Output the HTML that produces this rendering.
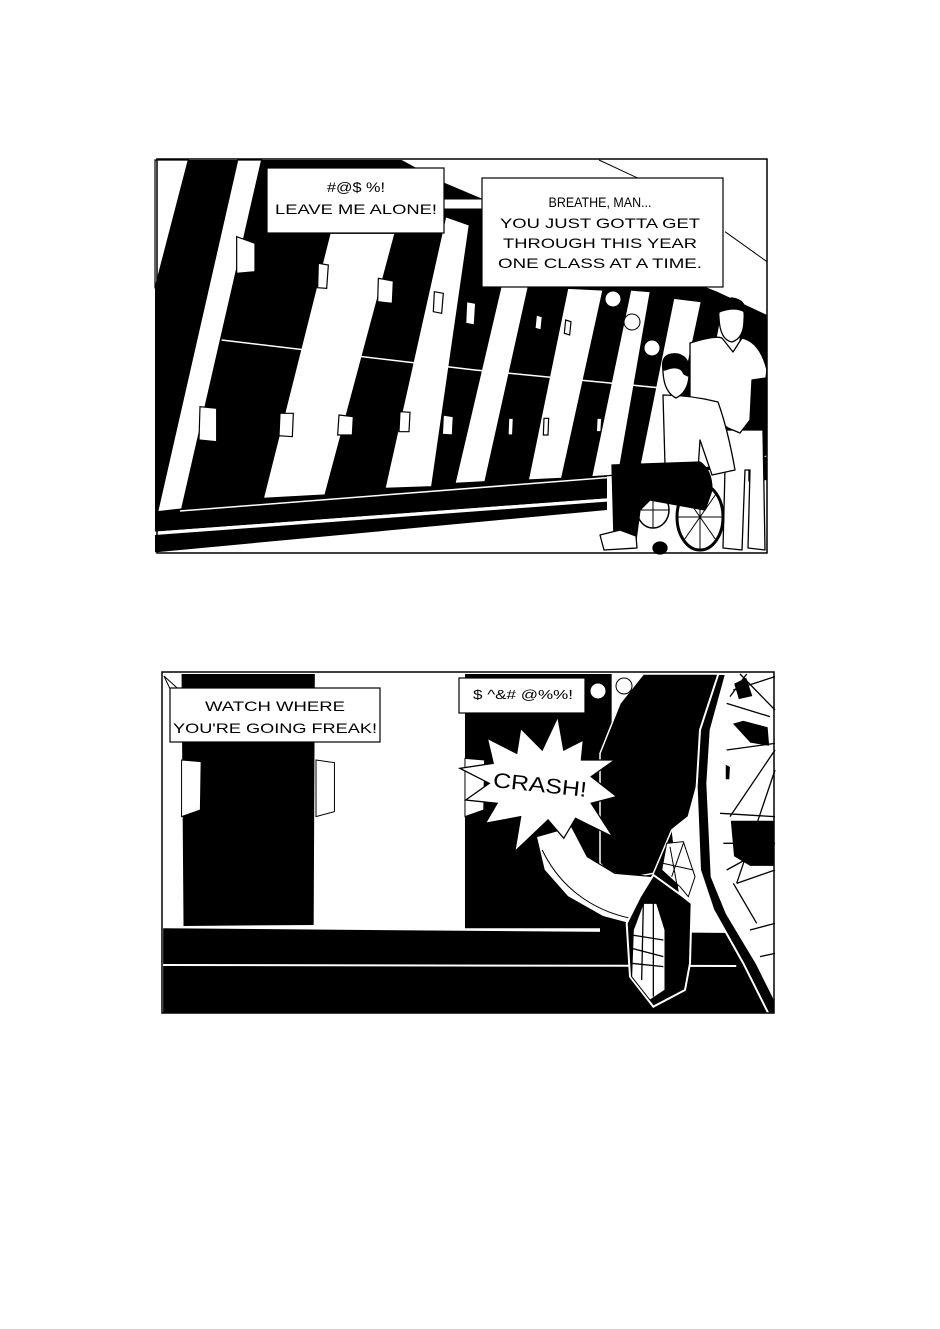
<!DOCTYPE html>
<html><head><meta charset="utf-8"><style>
html,body{margin:0;padding:0;background:#fff}
svg{display:block}
text{font-family:"Liberation Sans",sans-serif;fill:#000}
</style></head><body>
<svg width="940" height="1329" viewBox="0 0 940 1329" xmlns="http://www.w3.org/2000/svg">
<rect width="940" height="1329" fill="#fff"/>

<!-- PANEL 1 (3x coords) -->
<g transform="translate(155 155) scale(0.33333)">
  <polygon fill="#000" points="100,15 740,15 860,80 979,130 1686,410 1836,480 1836,900 1770,940 1356,960 1356,1030 0,1130 0,400"/>
  <g fill="#fff" stroke="#000" stroke-width="1.2">
    <polygon points="0,15 100,15 0,400" vector-effect="non-scaling-stroke"/>
    <polygon points="248,15 320,15 80,1062 8,1070" vector-effect="non-scaling-stroke"/>
    <polygon points="525,235 720,235 510,1020 325,1030" vector-effect="non-scaling-stroke"/>
    <polygon points="872,185 943,210 830,995 690,1000" vector-effect="non-scaling-stroke"/>
    <polygon points="1038,395 1120,395 990,980 900,985" vector-effect="non-scaling-stroke"/>
    <polygon points="1238,400 1344,405 1220,970 1120,975" vector-effect="non-scaling-stroke"/>
    <polygon points="1427,405 1486,410 1390,960 1310,965" vector-effect="non-scaling-stroke"/>
    <polygon points="1556,430 1639,440 1530,950 1450,955" vector-effect="non-scaling-stroke"/>
    <polygon points="1698,470 1768,480 1690,935 1610,940" vector-effect="non-scaling-stroke"/>
    <polygon points="245,245 300,265 300,350 245,355" vector-effect="non-scaling-stroke"/>
    <polygon points="490,325 520,330 515,400 488,398" vector-effect="non-scaling-stroke"/>
    <polygon points="670,370 715,378 712,445 668,440" vector-effect="non-scaling-stroke"/>
    <polygon points="838,410 865,415 860,475 835,470" vector-effect="non-scaling-stroke"/>
    <polygon points="935,440 962,445 958,510 932,505" vector-effect="non-scaling-stroke"/>
    <polygon points="1144,480 1162,485 1158,525 1140,520" vector-effect="non-scaling-stroke"/>
    <polygon points="1232,495 1248,500 1244,540 1228,535" vector-effect="non-scaling-stroke"/>
    <polygon points="135,755 185,760 185,860 132,855" vector-effect="non-scaling-stroke"/>
    <polygon points="375,775 415,775 412,845 372,842" vector-effect="non-scaling-stroke"/>
    <polygon points="552,780 595,785 592,840 548,840" vector-effect="non-scaling-stroke"/>
    <polygon points="735,770 765,772 762,830 732,830" vector-effect="non-scaling-stroke"/>
    <polygon points="865,780 895,785 892,840 862,838" vector-effect="non-scaling-stroke"/>
    <polygon points="1061,790 1075,790 1073,840 1059,840" vector-effect="non-scaling-stroke"/>
    <polygon points="1167,790 1181,790 1179,840 1165,840" vector-effect="non-scaling-stroke"/>
    <polygon points="1326,790 1340,790 1338,830 1324,830" vector-effect="non-scaling-stroke"/>
  </g>
  <polygon fill="#fff" points="0,1130 1356,1030 1836,1000 1836,1195 0,1195"/>
  <polygon fill="#000" points="0,1140 1356,1040 1356,1065 0,1192"/>
  <polygon fill="#000" points="1780,910 1836,905 1836,975 1780,980"/>
  <g stroke="#000" stroke-width="1" fill="none">
    <line x1="1332" y1="15" x2="1450" y2="70" vector-effect="non-scaling-stroke"/>
    <line x1="1710" y1="230" x2="1836" y2="320" vector-effect="non-scaling-stroke"/>
  </g>
  <g stroke="#fff" stroke-width="1.5" fill="none">
    <polyline points="200,555 960,645 1530,700" vector-effect="non-scaling-stroke"/>
    <polyline points="75,1068 1356,968" vector-effect="non-scaling-stroke"/>
  </g>
</g>

<!-- figures panel 1 -->
<g stroke="#000" stroke-width="1.3" stroke-linejoin="round">
  <path fill="#fff" d="M726,430 L723,548 L742,550 L745,470 L750,470 L748,548 L765,550 L763,430 Z"/>
  <path fill="#fff" d="M690,343 Q715,335 722,338 L733,352 L742,338 Q760,342 767,370 L766,378 L752,380 L750,420 L740,433 L728,428 L690,400 Z"/>
  <path fill="#fff" d="M719,318 Q717,302 732,300 Q746,302 744,320 Q744,338 732,342 Q720,340 719,318 Z"/>
  <path fill="#000" d="M719,312 Q718,299 732,298 Q746,300 745,312 Q735,306 719,312 Z"/>
  <path fill="#fff" d="M663,395 Q690,395 718,402 Q728,430 735,470 L712,475 L700,440 L698,470 L665,465 Z"/>
  <path fill="#fff" d="M663,372 Q662,357 676,356 Q690,358 689,376 Q688,392 676,398 Q664,392 663,372 Z"/>
  <path fill="#000" d="M663,370 Q660,352 678,354 Q692,358 688,376 L684,374 Q680,364 665,370 Z"/>
  <path fill="#000" d="M612,465 L700,462 Q712,470 712,490 L705,510 L650,500 L640,510 L636,540 L614,538 Z"/>
  <path fill="#fff" d="M600,535 L620,530 L636,536 L637,548 L604,550 Z"/>
  <ellipse cx="700" cy="517" rx="23" ry="33" fill="none" stroke-width="3"/>
  <ellipse cx="653" cy="510" rx="16" ry="18" fill="none" stroke-width="1.5"/>
  <path fill="none" stroke-width="1" d="M700,484 L700,550 M677,517 L723,517 M684,494 L716,540 M716,494 L684,540 M653,492 L653,528 M637,510 L669,510"/>
  <ellipse cx="660" cy="548" rx="7" ry="6" fill="#000"/>
</g>
<g fill="#fff" stroke="#000" stroke-width="1">
  <circle cx="613" cy="299" r="8"/>
  <circle cx="632" cy="322" r="8"/>
  <circle cx="652" cy="348" r="8"/>
</g>

<rect x="444" y="199" width="38" height="10" fill="#fff" stroke="#000" stroke-width="1"/>
<rect x="267" y="168" width="177" height="65" fill="#fff" stroke="#000" stroke-width="1.2"/>
<rect x="482" y="178" width="241" height="109" fill="#fff" stroke="#000" stroke-width="1.2"/>
<g font-size="14" text-anchor="middle">
<text x="356" y="192" textLength="58" lengthAdjust="spacingAndGlyphs">#@$ %!</text>
<text x="356" y="214" textLength="162" lengthAdjust="spacingAndGlyphs">LEAVE ME ALONE!</text>
<text x="600" y="207" textLength="103" lengthAdjust="spacingAndGlyphs">BREATHE, MAN...</text>
<text x="600" y="228" textLength="200" lengthAdjust="spacingAndGlyphs">YOU JUST GOTTA  GET</text>
<text x="600" y="248" textLength="194" lengthAdjust="spacingAndGlyphs">THROUGH THIS YEAR</text>
<text x="600" y="268" textLength="204" lengthAdjust="spacingAndGlyphs">ONE CLASS AT A TIME.</text>
</g>
<rect x="157" y="159" width="610" height="394" fill="none" stroke="#000" stroke-width="1.5"/>

<!-- PANEL 2 -->
<g transform="translate(160 670) scale(0.392 0.3333)">
  <polygon fill="#000" points="55,12 395,12 392,765 60,768"/>
  <polygon fill="#000" points="778,12 1160,12 1160,775 778,775"/>
  <g fill="#fff" stroke="#000" stroke-width="1">
    <polygon points="55,270 105,275 103,420 55,440" vector-effect="non-scaling-stroke"/>
    <polygon points="398,270 445,278 445,425 398,440" vector-effect="non-scaling-stroke"/>
    <polygon points="778,265 828,270 826,420 778,440" vector-effect="non-scaling-stroke"/>
  </g>
  <polygon fill="#000" points="8,775 1565,790 1565,1028 8,1028"/>
  <line x1="8" y1="885" x2="1470" y2="888" stroke="#fff" stroke-width="2" vector-effect="non-scaling-stroke"/>
  <polygon fill="#fff" stroke="#000" stroke-width="1" vector-effect="non-scaling-stroke" points="10,18 45,55 25,55"/>
</g>

<!-- panel 2 right: leg, wheel (3x coords from 600,670) -->
<g transform="translate(600 670) scale(0.33333)">
  <polygon fill="#000" points="0,250 60,100 215,480 250,790 0,790"/>
  <polygon fill="#fff" points="35,12 130,12 60,230 35,250"/>
  <polygon fill="#000" stroke="#fff" stroke-width="1.5" vector-effect="non-scaling-stroke" points="130,12 370,12 300,180 295,330 265,440 215,480 160,610 80,625 20,600 0,580 0,250 60,100"/>
  <polygon fill="#fff" points="265,440 292,350 300,600 340,720 380,785 250,785 215,480"/>
  <polygon fill="#fff" points="375,12 525,12 525,1030 505,1030 470,880 380,730 335,620 320,340 330,180"/>
  <polygon fill="#000" stroke="#fff" stroke-width="2" vector-effect="non-scaling-stroke" points="355,12 300,180 290,350 300,600 340,720 430,880 505,1030 525,1030 525,990 470,880 380,730 335,620 322,340 332,180 378,12"/>
  <g fill="#000" stroke="#fff" stroke-width="1.5">
    <polygon points="395,160 430,150 505,170 510,230 450,220" vector-effect="non-scaling-stroke"/>
    <polygon points="390,450 525,450 525,590 450,590 400,560" vector-effect="non-scaling-stroke"/>
    <polygon points="375,280 392,290 390,330 375,330" vector-effect="non-scaling-stroke"/>
    <polygon points="400,40 440,20 460,80 415,90" vector-effect="non-scaling-stroke"/>
  </g>
  <g stroke="#000" stroke-width="1.3" fill="none">
    <path vector-effect="non-scaling-stroke" d="M400,60 L525,20 M380,100 L510,140 M380,240 L525,220 M360,430 L525,440 M370,520 L525,520 M380,600 L525,520 M410,640 L525,600 M450,780 L525,760 M480,860 L525,850 M440,12 L390,80 M525,240 L390,440 M525,300 L410,640 M420,12 L525,120 M400,640 L470,760"/>
  </g>
  <polygon fill="#fff" stroke="#000" stroke-width="1" vector-effect="non-scaling-stroke" points="200,520 250,515 285,620 265,680 240,650 185,600"/>
  <path stroke="#000" stroke-width="1" fill="none" vector-effect="non-scaling-stroke" d="M210,530 L230,640 M190,580 L280,600 M250,520 L215,620"/>
</g>

<!-- shoe + starburst (zoom2 coords) -->
<g transform="translate(160 670) scale(0.392 0.3333)">
  <polygon fill="#fff" stroke="#000" stroke-width="1.2" vector-effect="non-scaling-stroke" points="960,500 1050,470 1090,560 1160,610 1260,620 1250,700 1210,765 1130,740 1040,680 980,600"/>
  <path fill="none" stroke="#000" stroke-width="1" vector-effect="non-scaling-stroke" d="M975,540 C1020,650 1100,720 1200,745"/>
  <polygon fill="#fff" stroke="#000" stroke-width="1.3" vector-effect="non-scaling-stroke" points="1015,140 1030,240 1080,210 1075,270 1160,270 1100,320 1165,380 1100,400 1155,500 1060,445 1030,505 990,450 905,545 920,440 830,460 860,400 780,390 840,340 765,295 850,280 835,205 910,250 920,175 975,240"/>
</g>

<!-- caster on top -->
<g transform="translate(600 670) scale(0.33333)">
  <polygon fill="#000" stroke="#fff" stroke-width="2" vector-effect="non-scaling-stroke" points="160,615 250,680 275,700 270,880 255,960 160,1010 90,920 80,760 120,680"/>
  <polygon fill="#fff" stroke="#000" stroke-width="1" vector-effect="non-scaling-stroke" points="100,780 130,700 170,700 195,780 195,960 150,990 95,920"/>
  <path stroke="#000" stroke-width="1.3" fill="none" vector-effect="non-scaling-stroke" d="M95,795 L190,810 M95,835 L190,860 M95,880 L190,890 M130,700 L125,930 M160,700 L160,980"/>
</g>

<rect x="170" y="688" width="210" height="54" fill="#fff" stroke="#000" stroke-width="1.2"/>
<text x="275" y="711" font-size="14" text-anchor="middle" textLength="140" lengthAdjust="spacingAndGlyphs">WATCH WHERE</text>
<text x="275" y="733" font-size="14" text-anchor="middle" textLength="204" lengthAdjust="spacingAndGlyphs">YOU'RE GOING FREAK!</text>
<rect x="459" y="678" width="126" height="35" fill="#fff" stroke="#000" stroke-width="1.2"/>
<text x="523" y="699" font-size="13" text-anchor="middle" textLength="100" lengthAdjust="spacingAndGlyphs">$ ^&amp;# @%%!</text>
<g fill="#fff" stroke="#000" stroke-width="1">
  <circle cx="598" cy="691" r="8"/>
  <circle cx="624" cy="686" r="8"/>
</g>
<text x="540" y="792" font-size="21" text-anchor="middle" textLength="94" lengthAdjust="spacingAndGlyphs" transform="rotate(6 540 785)">CRASH!</text>
<rect x="162" y="672" width="612" height="341" fill="none" stroke="#000" stroke-width="1.5"/>
</svg>
</body></html>
